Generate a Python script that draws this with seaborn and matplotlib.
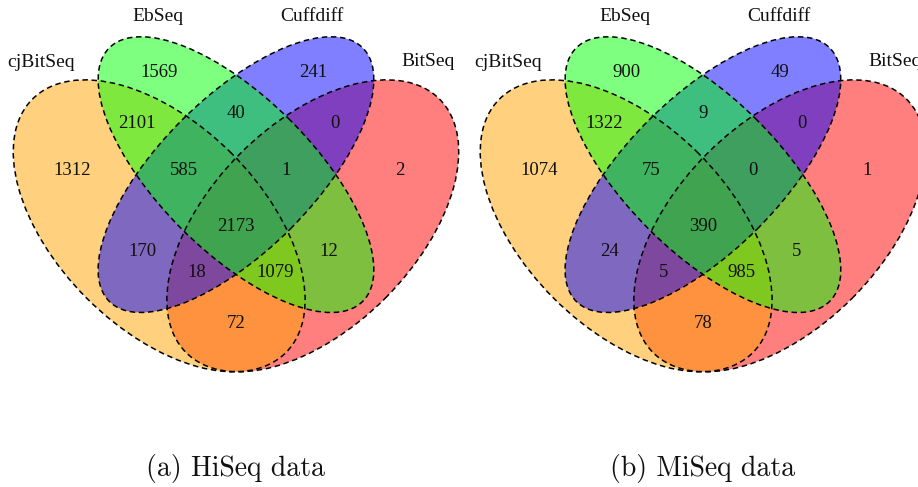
import matplotlib
matplotlib.use("Agg")
import matplotlib.pyplot as plt
from matplotlib.patches import Ellipse
import seaborn as sns

# ---------------- data ----------------
categories = ["cjBitSeq", "EbSeq", "Cuffdiff", "BitSeq"]
region_names = [
    "cjBitSeq", "EbSeq", "Cuffdiff", "BitSeq",
    "cjBitSeq&EbSeq", "EbSeq&Cuffdiff", "Cuffdiff&BitSeq",
    "cjBitSeq&EbSeq&Cuffdiff", "EbSeq&Cuffdiff&BitSeq", "all",
    "cjBitSeq&Cuffdiff", "EbSeq&BitSeq",
    "cjBitSeq&Cuffdiff&BitSeq", "cjBitSeq&EbSeq&BitSeq", "cjBitSeq&BitSeq",
]
hiseq_counts = [1312, 1569, 241, 2, 2101, 40, 0, 585, 1, 2173, 170, 12, 18, 1079, 72]
miseq_counts = [1074, 900, 49, 1, 1322, 9, 0, 75, 0, 390, 24, 5, 5, 985, 78]
panel_titles = ["(a) HiSeq data", "(b) MiSeq data"]

# ---------------- layout (Venn unit coordinates) ----------------
ellipse_geom = {  # cx, cy, semi-major, semi-minor, angle
    "cjBitSeq": (0.35, 0.47, 0.35, 0.20, 135),
    "EbSeq":    (0.50, 0.57, 0.35, 0.15, 135),
    "Cuffdiff": (0.50, 0.57, 0.35, 0.15, 45),
    "BitSeq":   (0.65, 0.47, 0.35, 0.20, 45),
}
region_pos = {
    "cjBitSeq": (0.18, 0.579), "EbSeq": (0.35, 0.769), "Cuffdiff": (0.65, 0.769),
    "BitSeq": (0.82, 0.579), "cjBitSeq&EbSeq": (0.307, 0.669),
    "EbSeq&Cuffdiff": (0.50, 0.689), "Cuffdiff&BitSeq": (0.693, 0.669),
    "cjBitSeq&EbSeq&Cuffdiff": (0.398, 0.579), "EbSeq&Cuffdiff&BitSeq": (0.598, 0.579),
    "all": (0.50, 0.468), "cjBitSeq&Cuffdiff": (0.318, 0.419),
    "EbSeq&BitSeq": (0.682, 0.419), "cjBitSeq&Cuffdiff&BitSeq": (0.424, 0.378),
    "cjBitSeq&EbSeq&BitSeq": (0.576, 0.378), "cjBitSeq&BitSeq": (0.50, 0.280),
}
cat_pos = {
    "cjBitSeq": (0.119, 0.788), "EbSeq": (0.348, 0.878),
    "Cuffdiff": (0.648, 0.878), "BitSeq": (0.875, 0.790),
}
fill_order = ["BitSeq", "cjBitSeq", "Cuffdiff", "EbSeq"]
palette = dict(zip(categories, sns.color_palette(["#FFA500", "#00FF00", "#0000FF", "#FF0000"])))
panel_offset = 0.912

sns.set_theme(style="white")
plt.rcParams["font.family"] = ["Liberation Serif", "DejaVu Serif"]

fig = plt.figure(figsize=(9.18, 4.87), dpi=100)
ax = fig.add_axes([0, 0, 1, 1])
ax.set_xlim(0.0391, 1.832)
ax.set_ylim(-0.040, 0.911)
ax.axis("off")

for p, counts in enumerate([hiseq_counts, miseq_counts]):
    dx = p * panel_offset
    for name in fill_order:
        cx, cy, a, b, ang = ellipse_geom[name]
        ax.add_patch(Ellipse((cx + dx, cy), 2 * a, 2 * b, angle=ang,
                             facecolor=palette[name], alpha=0.5, lw=0, zorder=1))
    for name in categories:
        cx, cy, a, b, ang = ellipse_geom[name]
        ax.add_patch(Ellipse((cx + dx, cy), 2 * a, 2 * b, angle=ang, fill=False,
                             edgecolor="black", lw=1.1, ls=(0, (3.6, 2.4)), zorder=2))
    for rname, val in zip(region_names, counts):
        x, y = region_pos[rname]
        ax.text(x + dx, y, str(val), ha="center", va="center", fontsize=13.5,
                color="#111111", zorder=3)
    for cname in categories:
        x, y = cat_pos[cname]
        ax.text(x + dx, y, cname, ha="center", va="center", fontsize=14,
                color="#111111", zorder=3)
    ax.text(0.5 + dx, -0.004, panel_titles[p], ha="center", va="center",
            fontsize=20, family="cmr10", color="#111111")

fig.savefig("out.png", dpi=100)
